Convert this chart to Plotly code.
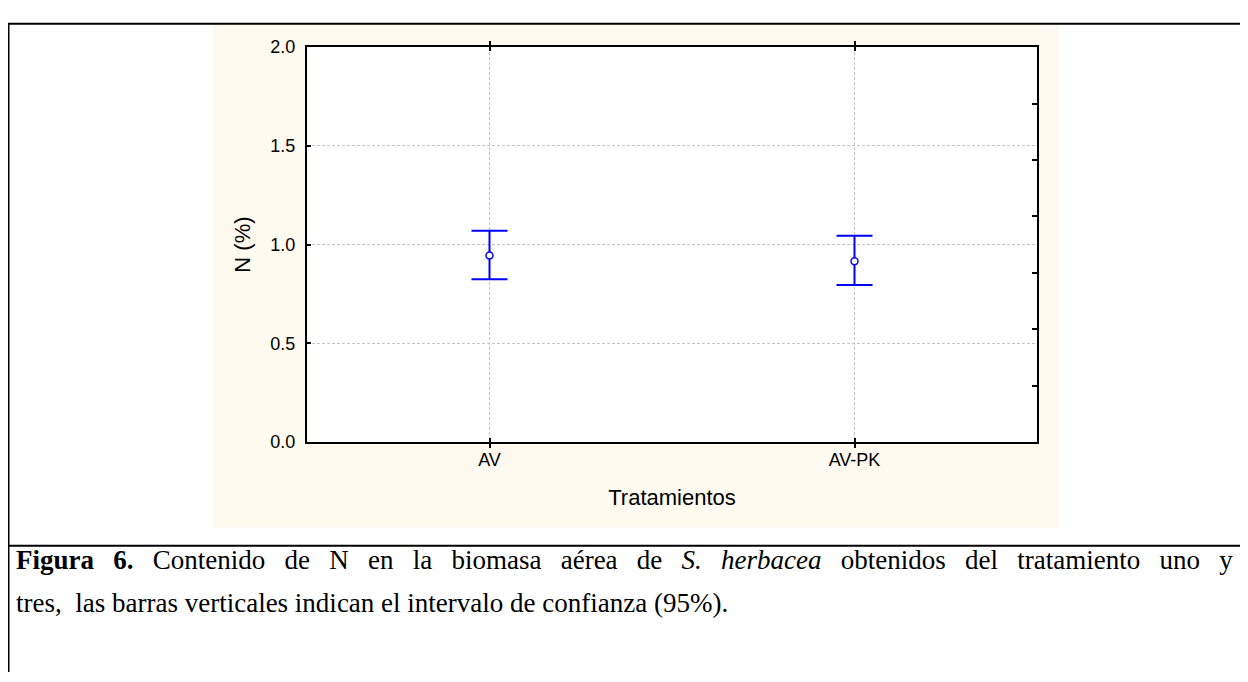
import plotly.graph_objects as go

# The page body has an 8px default margin, so the figure is drawn 8px in from the
# window's top-left corner; layout positions below are given in window pixels.
OFF = 8
W, H = 1248 - OFF, 682 - OFF

categories = ["AV", "AV-PK"]
means = [0.945, 0.915]
upper = [1.07, 1.045]
lower = [0.825, 0.795]

y_title = "N (%)"
x_title = "Tratamientos"
caption_1 = ("<span style=\"word-spacing:12.5px\"><b>Figura 6.</b> Contenido de N en la biomasa aérea de "
             "<i>S. herbacea</i> obtenidos del tratamiento uno y</span>")
caption_2 = "tres,\u00a0 las barras verticales indican el intervalo de confianza (95%)."


def px(x):
    return (x - OFF) / W


def py(y):
    return 1 - (y - OFF) / H


fig = go.Figure()

fig.add_trace(go.Scatter(
    x=categories, y=means, mode="markers",
    marker=dict(symbol="circle", size=7, color="white", line=dict(color="#0000FF", width=1.5)),
    error_y=dict(type="data", symmetric=False,
                 array=[u - m for u, m in zip(upper, means)],
                 arrayminus=[m - l for m, l in zip(means, lower)],
                 color="#0000FF", thickness=2, width=18),
    showlegend=False, hoverinfo="skip",
))
# helper trace so the right-hand axis (7 divisions) is drawn
fig.add_trace(go.Scatter(x=categories, y=[0, 7], yaxis="y2", mode="markers",
                         marker=dict(opacity=0), showlegend=False, hoverinfo="skip"))

sans = "Liberation Sans, Arial, sans-serif"
serif = "Liberation Serif, Times New Roman, serif"
grid = "#c4c4c4"

fig.update_layout(
    width=W, height=H,
    margin=dict(l=0, r=0, t=0, b=0),
    paper_bgcolor="white",
    plot_bgcolor="rgba(0,0,0,0)",
    showlegend=False,
    xaxis=dict(
        domain=[px(307), px(1037)],
        range=[-0.5, 1.5],
        showline=True, linecolor="black", linewidth=2, mirror="allticks",
        ticks="inside", ticklen=4, tickwidth=1.5, tickcolor="black",
        showgrid=True, gridcolor=grid, gridwidth=1, griddash="3px,2px",
        zeroline=False,
        tickfont=dict(family=sans, size=18, color="black"),
        title=dict(text=x_title, font=dict(family=sans, size=22, color="black"), standoff=21),
    ),
    yaxis=dict(
        domain=[py(445), py(38)],
        range=[0, 2], dtick=0.5, tickformat=".1f",
        showline=True, linecolor="black", linewidth=2, mirror=False,
        ticks="inside", ticklen=4, tickwidth=1.5, tickcolor="black",
        showgrid=True, gridcolor=grid, gridwidth=1, griddash="3px,2px",
        zeroline=False,
        ticklabelstandoff=6,
        tickfont=dict(family=sans, size=18, color="black"),
        title=dict(text=y_title, font=dict(family=sans, size=22, color="black"), standoff=14),
    ),
    yaxis2=dict(
        overlaying="y", side="right", anchor="x",
        range=[0, 7], dtick=1,
        showline=True, linecolor="black", linewidth=2,
        ticks="inside", ticklen=5, tickwidth=2, tickcolor="black",
        showticklabels=False, showgrid=False, zeroline=False,
    ),
    shapes=[
        dict(type="rect", xref="paper", yref="paper", x0=px(213), x1=px(1059), y0=py(533), y1=py(15),
             fillcolor="#FEFAF0", line=dict(width=0), layer="below"),
        dict(type="rect", xref="paper", yref="paper", x0=px(307), x1=px(1037), y0=py(445), y1=py(38),
             fillcolor="white", line=dict(width=0), layer="below"),
        dict(type="line", xref="paper", yref="paper", x0=px(7.5), x1=1, y0=py(14), y1=py(14),
             line=dict(color="black", width=2)),
        dict(type="line", xref="paper", yref="paper", x0=px(8.5), x1=px(8.5), y0=py(14), y1=0,
             line=dict(color="black", width=2)),
        dict(type="line", xref="paper", yref="paper", x0=px(7.5), x1=1, y0=py(552), y1=py(552),
             line=dict(color="black", width=2)),
    ],
    annotations=[
        dict(text=caption_1, xref="paper", yref="paper", x=px(14), y=py(567),
             xanchor="left", yanchor="middle", showarrow=False,
             font=dict(family=serif, size=27, color="black")),
        dict(text=caption_2, xref="paper", yref="paper", x=px(14), y=py(611),
             xanchor="left", yanchor="middle", showarrow=False,
             font=dict(family=serif, size=27, color="black")),
    ],
)

fig.write_html("out.html")
